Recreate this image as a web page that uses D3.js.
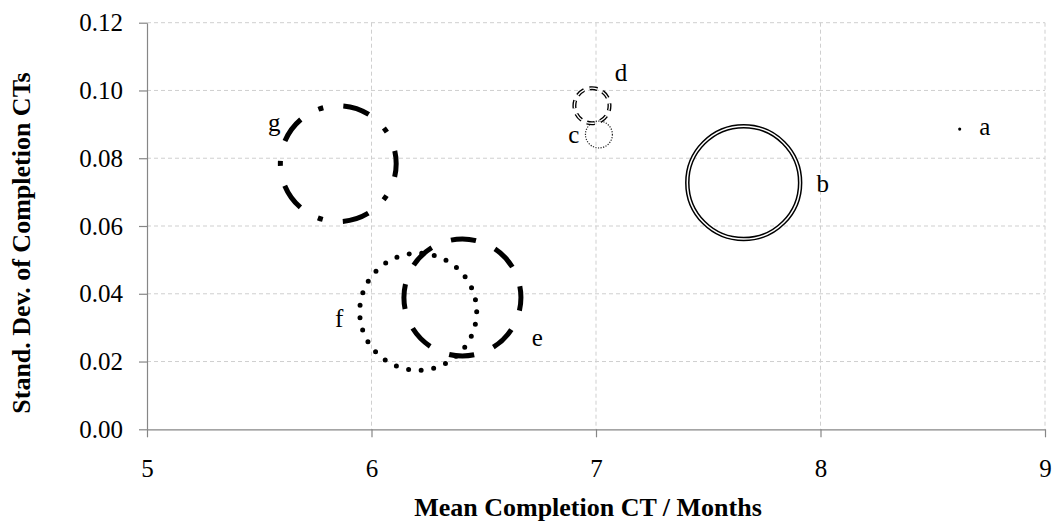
<!DOCTYPE html>
<html>
<head>
<meta charset="utf-8">
<script src="https://cdn.jsdelivr.net/npm/d3@7"></script>
<style>
  body { margin: 0; background: #fff; }
  svg { display: block; font-family: "Liberation Serif", "Times New Roman", serif; }
  .grid line { stroke: #cfcfcf; stroke-width: 1; stroke-dasharray: 4 3; }
  .axis path, .axis line { stroke: #868686; stroke-width: 1.2; }
  .axis text { font-size: 25px; fill: #000; }
  .title { font-size: 26px; font-weight: bold; }
  .label { font-size: 25px; }
</style>
</head>
<body>
<svg width="1056" height="521"></svg>
<script>
// Data
const names      = ["a", "b", "c", "d", "e", "f", "g"];
const meanCT     = [8.62, 7.658, 7.013, 6.982, 6.405, 6.208, 5.852];
const sdCT       = [0.0886, 0.0728, 0.0870, 0.0955, 0.0389, 0.0347, 0.0784];
const bubbleSize = [0.07, 93, 5.3, 9, 100, 100, 98];
const xTicks = [5, 6, 7, 8, 9];
const yTicks = [0, 0.02, 0.04, 0.06, 0.08, 0.10, 0.12];

const svg = d3.select("svg");
const plotL = 147, plotR = 1045, plotT = 22.7, plotB = 429.3;

const x = d3.scaleLinear().domain([5, 9]).range([plotL, plotR]);
const y = d3.scaleLinear().domain([0, 0.12]).range([plotB, plotT]);
const r = d3.scaleSqrt().domain([0, 100]).range([0, 58.5]);

// gridlines
const grid = svg.append("g").attr("class", "grid");
grid.selectAll(".h").data(yTicks.filter(d => d > 0)).join("line")
  .attr("x1", plotL).attr("x2", plotR)
  .attr("y1", d => y(d)).attr("y2", d => y(d));
grid.selectAll(".v").data(xTicks.filter(d => d > 5)).join("line")
  .attr("x1", d => x(d)).attr("x2", d => x(d))
  .attr("y1", plotT).attr("y2", plotB);

// axes
svg.append("g").attr("class", "axis")
  .attr("transform", `translate(0,${plotB})`)
  .call(d3.axisBottom(x).tickValues(xTicks).tickSize(8).tickSizeOuter(0)
    .tickPadding(22).tickFormat(d3.format("d")))
  .attr("font-family", null).attr("font-size", null);
svg.append("g").attr("class", "axis")
  .attr("transform", `translate(${plotL},0)`)
  .call(d3.axisLeft(y).tickValues(yTicks).tickSize(8).tickSizeOuter(0)
    .tickPadding(16).tickFormat(d3.format(".2f")))
  .attr("font-family", null).attr("font-size", null);

svg.append("text").attr("class", "title")
  .attr("x", 588).attr("y", 516).attr("text-anchor", "middle")
  .text("Mean Completion CT / Months");
svg.append("text").attr("class", "title")
  .attr("transform", "translate(30,243) rotate(-90)").attr("text-anchor", "middle")
  .text("Stand. Dev. of Completion CTs");

// line style for each series
const circ = rad => 2 * Math.PI * rad;
const styles = {
  a: [{ fill: "#000", stroke: "none" }],
  b: [{ stroke: "#000", width: 4.5 }, { stroke: "#fff", width: 1.5 }],
  c: [{ stroke: "#222", width: 1.2, dash: () => "1.2 1.4" }],
  d: [{ stroke: "#000", width: 4, dash: rr => { const p = circ(rr) / 8; return `${p * 0.58} ${p * 0.42}`; }, offset: 3 },
      { stroke: "#fff", width: 1.3, dash: rr => { const p = circ(rr) / 8; return `${p * 0.58} ${p * 0.42}`; }, offset: 3 }],
  e: [{ stroke: "#000", width: 5, dash: rr => { const p = circ(rr) / 8; return `${p * 0.55} ${p * 0.45}`; }, offset: 12 }],
  f: [{ stroke: "#000", width: 5, cap: "round", dash: rr => `0 ${circ(rr) / 29}` }],
  g: [{ stroke: "#000", width: 5, dash: rr => { const p = circ(rr) / 5; return `${p * 0.37} ${p * 0.28} ${p * 0.07} ${p * 0.28}`; }, offset: 13.5 }]
};

// label offsets from bubble centre (px)
const labelOffset = {
  a: [25, 6], b: [79, 9], c: [-25, 8], d: [29, -25],
  e: [75, 49], f: [-79, 15], g: [-64, -33]
};

const bubbles = names.map((n, i) => ({ name: n, x: meanCT[i], y: sdCT[i], size: bubbleSize[i] }));

const gB = svg.append("g");
bubbles.forEach(d => {
  const rr = r(d.size);
  styles[d.name].forEach(s => {
    gB.append("circle")
      .attr("cx", x(d.x)).attr("cy", y(d.y)).attr("r", rr)
      .attr("fill", s.fill || "none")
      .attr("stroke", s.stroke)
      .attr("stroke-width", s.width || 0)
      .attr("stroke-linecap", s.cap || "butt")
      .attr("stroke-dasharray", s.dash ? s.dash(rr) : null)
      .attr("stroke-dashoffset", s.offset || 0);
  });
});

svg.append("g").selectAll("text").data(bubbles).join("text")
  .attr("class", "label")
  .attr("text-anchor", "middle")
  .attr("x", d => x(d.x) + labelOffset[d.name][0])
  .attr("y", d => y(d.y) + labelOffset[d.name][1])
  .text(d => d.name);
</script>
</body>
</html>
